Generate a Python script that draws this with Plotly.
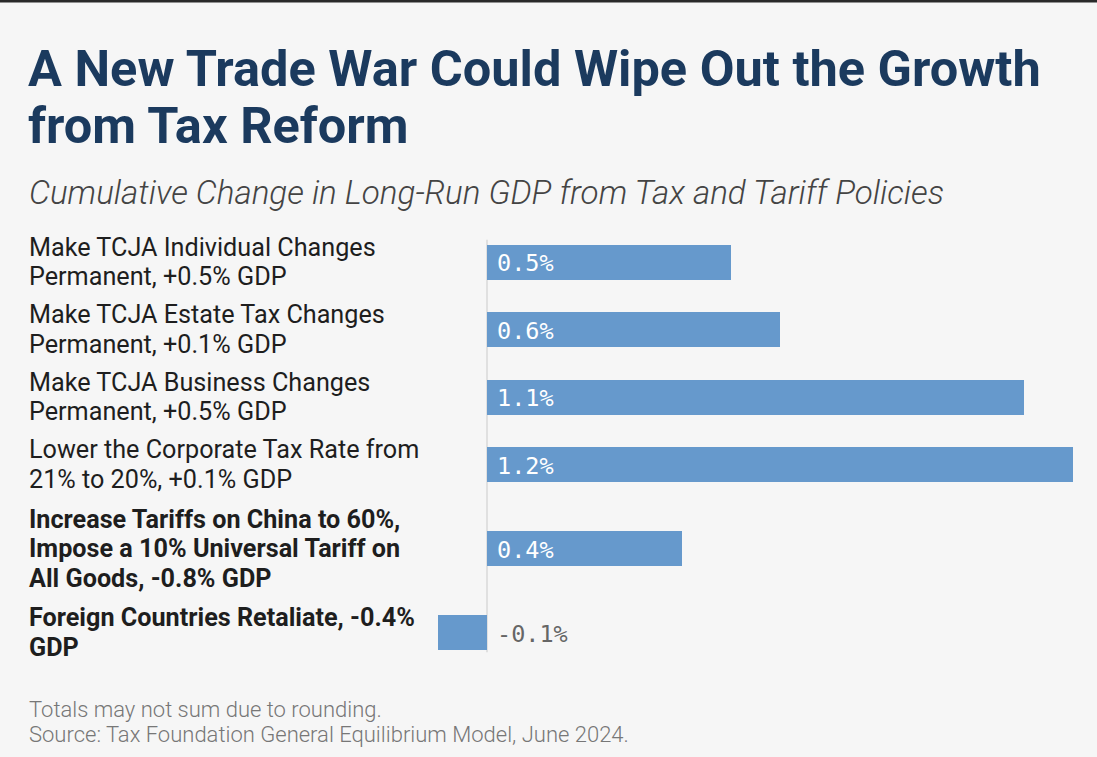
import plotly.graph_objects as go

# ---- data ----
categories = [
    "Make TCJA Individual Changes<br>Permanent, +0.5% GDP",
    "Make TCJA Estate Tax Changes<br>Permanent, +0.1% GDP",
    "Make TCJA Business Changes<br>Permanent, +0.5% GDP",
    "Lower the Corporate Tax Rate from<br>21% to 20%, +0.1% GDP",
    "Increase Tariffs on China to 60%,<br>Impose a 10% Universal Tariff on<br>All Goods, -0.8% GDP",
    "Foreign Countries Retaliate, -0.4%<br>GDP",
]
values = [0.5, 0.6, 1.1, 1.2, 0.4, -0.1]
bold_rows = [False, False, False, False, True, True]

title_lines = ["A New Trade War Could Wipe Out the Growth", "from Tax Reform"]
subtitle = "Cumulative Change in Long-Run GDP from Tax and Tariff Policies"
notes = ["Totals may not sum due to rounding.",
         "Source: Tax Foundation General Equilibrium Model, June 2024."]

# ---- layout helpers (row slots sized by number of label lines) ----
W, H = 1097, 757
LINE_PX = 32.8
GAP = 0.06
LABEL_LINE_SPACING = 29.5
n_lines = [c.count("<br>") + 1 for c in categories]
pos = []
for i, n in enumerate(n_lines):
    if i == 0:
        pos.append(n / 2)
    else:
        pos.append(pos[-1] + (n_lines[i - 1] + n) / 2 + GAP)
first_px = 262.0
y_top = pos[0] - first_px / LINE_PX
y_bot = pos[0] + (H - first_px) / LINE_PX

zero_px = 487.0
px_per_unit = (1073.0 - zero_px) / 1.2
x_lo = -zero_px / px_per_unit
x_hi = (W - zero_px) / px_per_unit

BAR = "#6699cc"
BG = "#f6f6f6"

fig = go.Figure()
fig.add_trace(go.Bar(
    x=values, y=pos, orientation="h",
    marker=dict(color=BAR, line=dict(width=0)),
    width=35 / LINE_PX, hoverinfo="skip", showlegend=False,
))

ann = []
# value labels
for v, p in zip(values, pos):
    ann.append(dict(
        x=0, y=p, xref="x", yref="y", xanchor="left", yanchor="middle",
        xshift=8, yshift=-1, showarrow=False, text=f"{v:.1f}%",
        font=dict(family="DejaVu Sans Mono", size=23.5,
                  color="#ffffff" if v > 0 else "#666666"),
    ))
# category labels, one annotation per line
for c, p, b in zip(categories, pos, bold_rows):
    parts = c.split("<br>")
    n = len(parts)
    for k, part in enumerate(parts):
        ann.append(dict(
            x=27 / W, y=p, xref="paper", yref="y", xanchor="left", yanchor="middle",
            yshift=((n - 1) / 2 - k) * LABEL_LINE_SPACING,
            align="left", showarrow=False, text=part,
            font=dict(family="Roboto", size=25.2, color="#1e1e1e",
                      weight="bold" if b else "normal"),
        ))
# title
for line, base in zip(title_lines, [85, 142]):
    ann.append(dict(
        x=26 / W, y=1 - (base - 16.5) / H, xref="paper", yref="paper",
        xanchor="left", yanchor="middle", showarrow=False, text=line,
        font=dict(family="Roboto", size=50.5, color="#1b3a5e", weight="bold"),
    ))
ann.append(dict(
    x=27 / W, y=1 - (203 - 10) / H, xref="paper", yref="paper",
    xanchor="left", yanchor="middle", showarrow=False, text=f"<i>{subtitle}</i>",
    font=dict(family="Roboto", size=33.2, color="#444444", weight=300),
))
for line, base in zip(notes, [716, 741]):
    ann.append(dict(
        x=27 / W, y=1 - (base - 7) / H, xref="paper", yref="paper",
        xanchor="left", yanchor="middle", showarrow=False, text=line,
        font=dict(family="Roboto", size=22, color="#777777", weight=300),
    ))

shapes = [
    dict(type="line", xref="x", yref="y", x0=0, x1=0,
         y0=pos[0] - 0.68, y1=pos[-1] + 0.6,
         line=dict(color="#d9d9d9", width=1.5), layer="below"),
    dict(type="line", xref="paper", yref="paper", x0=0, x1=1, y0=1, y1=1,
         line=dict(color="#2a2a2a", width=5)),
]

fig.update_layout(
    width=W, height=H,
    margin=dict(l=0, r=0, t=0, b=0),
    paper_bgcolor=BG, plot_bgcolor=BG,
    xaxis=dict(range=[x_lo, x_hi], visible=False, fixedrange=True),
    yaxis=dict(range=[y_bot, y_top], visible=False, fixedrange=True),
    annotations=ann, shapes=shapes,
    bargap=0,
)
fig.write_html(
    "out.html",
    config={"displayModeBar": False},
    post_script="document.body.style.margin='0';document.body.style.background='#f6f6f6';",
)
